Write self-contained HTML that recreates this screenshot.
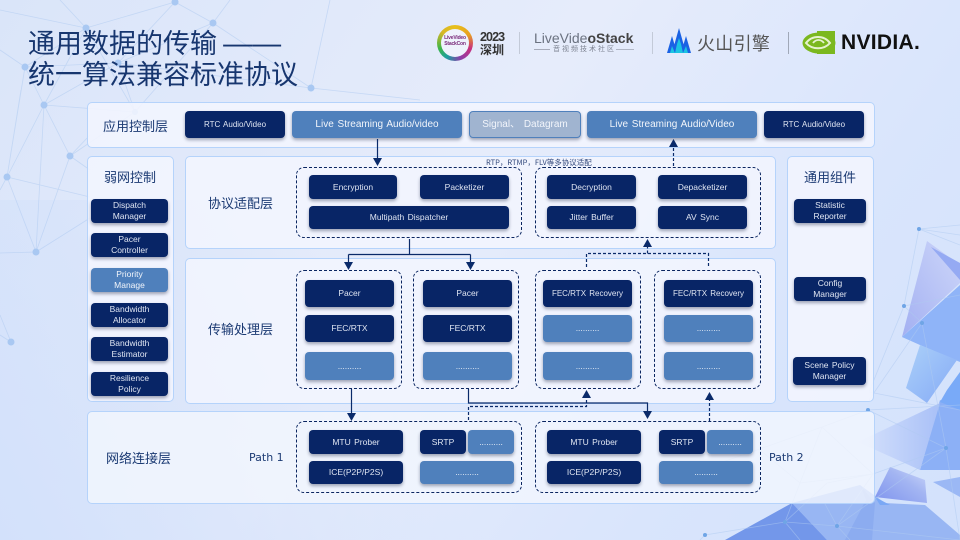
<!DOCTYPE html>
<html lang="zh"><head><meta charset="utf-8"><style>
html,body{margin:0;padding:0}
#s{position:relative;width:960px;height:540px;overflow:hidden;background:linear-gradient(125deg,#dae5f9 0%,#e6ecfb 45%,#d9e5fc 75%,#d3e2fc 100%);font-family:"Liberation Sans","Noto Sans CJK SC",sans-serif}
#s:before{content:"";position:absolute;left:0;top:200px;width:500px;height:340px;background:linear-gradient(60deg,#d3e1fb 0%,rgba(211,225,251,0) 70%)}
svg{position:absolute;left:0;top:0}
.p{position:absolute;box-sizing:border-box;background:rgba(242,245,254,.88);border:1px solid #b5d3fb;border-radius:5px}
.o{position:absolute;box-sizing:border-box;border:1px dashed #0a2560;border-radius:8px}
.b{position:absolute;box-sizing:border-box;display:flex;align-items:center;justify-content:center;text-align:center;color:#dfe5f2;border-radius:4px;font-size:8.5px;line-height:11px;box-shadow:0 2px 3px rgba(40,50,80,.42);word-spacing:1px}
.d{background:#082566}.l{background:#4f80bc;color:#f2f5fb}
.t{position:absolute;color:#1b3a73;white-space:nowrap;font-family:"Noto Sans CJK SC",sans-serif}
.h{font-size:13px;line-height:18px}
.lg{position:absolute;white-space:nowrap}
</style></head><body><div id="s">
<svg width="960" height="540" viewBox="0 0 960 540">
<defs>
<linearGradient id="g1" x1="0" y1="1" x2="1" y2="0"><stop offset="0" stop-color="#a3b0f2"/><stop offset="1" stop-color="#cdd6f9"/></linearGradient>
<linearGradient id="g2" x1="0" y1="0" x2="1" y2="1"><stop offset="0" stop-color="#abd0f9"/><stop offset="1" stop-color="#85aaf6"/></linearGradient>
<linearGradient id="g3" x1="0" y1="0" x2="1" y2="0"><stop offset="0" stop-color="#d6e2fc"/><stop offset="1" stop-color="#a9c0f7"/></linearGradient>
<linearGradient id="g4" x1="0" y1="1" x2="1" y2="0"><stop offset="0" stop-color="#7e93ee"/><stop offset=".6" stop-color="#a3b5f2"/><stop offset="1" stop-color="#ced9fa"/></linearGradient>
</defs>
<g>
<polygon points="927,241 960,265 960,283 902,337" fill="url(#g1)"/>
<polygon points="931,247 960,263 960,280" fill="#95aaf3"/>
<polygon points="902,337 960,285 960,362 920,345" fill="#8fb4f8"/>
<polygon points="920,345 957,360 927,403 906,388" fill="url(#g2)"/>
<polygon points="940,400 960,408 960,470 920,470" fill="#8cb0f6"/>
<polygon points="947,390 960,372 960,410 940,402" fill="#79aaf8"/>
<polygon points="858,442 940,403 920,470" fill="url(#g3)"/>
<polygon points="890,467 925,480 927,503 875,497" fill="url(#g4)"/>
<polygon points="933,482 960,477 960,497" fill="#9bb8f5"/>
<polygon points="792,503 860,485 885,503 925,505 960,535 960,540 827,540" fill="#98b6f3"/>
<polygon points="860,485 875,503 872,540 845,540 866,500" fill="#8cacf0"/>
<polygon points="792,503 725,540 827,540" fill="#7397ea"/>
<polygon points="875,497 890,505 880,505" fill="#7aa8f5"/>
</g>
<g stroke="#aecbf0" stroke-width=".8" fill="none" opacity=".55">
<path d="M44 105L36 252M44 105L7 177M44 105L70 156M70 156L36 252M7 177L36 252M7 177L90 197M36 252L0 253M36 252L90 218M70 156L90 135M70 156L90 170M11 342L0 315M11 342L0 335M7 177L21 90M0 190L7 177M86 28L44 105M86 28L135 112M86 28L175 2M86 28L25 67M25 67L44 105M25 67L7 177M0 10L86 28M213 23L175 2M213 23L311 88M213 23L135 112M118 63L213 23M118 63L135 112M118 63L311 88M25 67L118 63M135 112L70 156M135 112L44 105M311 88L330 0M311 88L420 100M175 2L118 63M230 0L213 23M60 0L86 28M0 50L25 67M44 105L118 63"/>
<path d="M919 229L960 225M919 229L960 235M919 229L960 245M919 229L904 306M904 306L869 392M904 306L960 295M904 306L922 323M922 323L946 448M922 323L869 400M869 392L960 410M868 410L946 448M946 448L873 474M946 448L960 540M946 448L837 526M868 410L822 427L873 474M868 410L960 405M822 427L800 483M873 474L800 483M873 474L827 483M873 474L837 526M800 483L785 522M827 483L785 522M785 522L837 526M785 522L705 535M837 526L960 540M822 427L700 470M705 535L700 540M800 483L760 450M837 526L825 504M785 522L800 540M837 526L850 540"/>
</g>
<g fill="#a9c8f2"><circle cx="175" cy="2" r="3.5"/><circle cx="86" cy="28" r="3.5"/><circle cx="213" cy="23" r="3.5"/><circle cx="25" cy="67" r="3.5"/><circle cx="118" cy="63" r="3.5"/><circle cx="44" cy="105" r="3.5"/><circle cx="135" cy="112" r="3"/><circle cx="311" cy="88" r="3.5"/><circle cx="70" cy="156" r="3.5"/><circle cx="7" cy="177" r="3.5"/><circle cx="36" cy="252" r="3.5"/><circle cx="11" cy="342" r="3.5"/></g>
<g fill="#6fa5e6"><circle cx="919" cy="229" r="2"/><circle cx="904" cy="306" r="2"/><circle cx="922" cy="323" r="2"/><circle cx="868" cy="410" r="2"/><circle cx="946" cy="448" r="2"/><circle cx="785" cy="522" r="2"/><circle cx="837" cy="526" r="2"/><circle cx="705" cy="535" r="2"/></g>
</svg>

<div class="t" style="left:28px;top:26px;font-size:27px;line-height:31px;font-weight:400;color:#17366f">通用数据的传输 <span style="font:29px/0 'Liberation Sans',sans-serif">——</span><br>统一算法兼容标准协议</div>

<div class="lg" style="left:437px;top:25px;width:36px;height:36px;border-radius:50%;background:conic-gradient(#e8c01c 0deg,#e8a020 60deg,#c8307f 110deg,#8b3ea8 160deg,#1a9fa0 210deg,#3db54a 250deg,#d7b726 310deg,#e8c01c 360deg)"></div>
<div class="lg" style="left:441px;top:29px;width:28px;height:28px;border-radius:50%;background:#eef2fc;text-align:center;font:bold 5px/6px 'Liberation Sans',sans-serif;color:#7a2a7a;padding-top:6px;box-sizing:border-box;letter-spacing:-.2px">LiveVideo<br>StackCon</div>
<svg width="960" height="80" viewBox="0 0 960 80">
<g stroke="#c3cad8" stroke-width="1"><path d="M519.5 32V54"/><path d="M652.5 32V54"/></g>
<path d="M788.5 32V54" stroke="#a0a8b8" stroke-width="1"/>
<g stroke="#7c8290" stroke-width=".6"><path d="M534 49.5H550"/><path d="M616 49.5H634"/></g>
<polygon points="667,53 672,36 677,53" fill="#1a62e4"/>
<polygon points="672,53 679,28 686,53" fill="#1a62e4"/>
<polygon points="681,53 686,36 691,53" fill="#1a62e4"/>
<polygon points="670,53 672,46 675,53 677,44 679,38 681,44 683,53 686,46 688,53" fill="#1cc4e2"/>
<ellipse cx="819" cy="43" rx="16.5" ry="10.5" fill="#7bb81f"/>
<rect x="817" y="31" width="18" height="23" fill="#7bb81f"/>
<path d="M806 43C812 35 824 35 830 43C824 50 812 50 806 43Z" fill="none" stroke="#e6f2cf" stroke-width="2"/>
<path d="M813 43C816 39 821 39 824 43" fill="none" stroke="#e6f2cf" stroke-width="1.8"/>
</svg>
<div class="lg" style="left:480px;top:31px;font:bold 12.5px/12.5px 'Liberation Sans','Noto Sans CJK SC',sans-serif;color:#333;letter-spacing:-.9px">2023<br><span style="letter-spacing:0;font-size:12px">深圳</span></div>
<div class="lg" style="left:534px;top:30px;font:14px/16px 'Liberation Sans',sans-serif;color:#6b7280">LiveVide<span style="color:#444;font-weight:bold">oStack</span></div>
<div class="lg" style="left:553px;top:45px;font:7px/9px 'Noto Sans CJK SC',sans-serif;color:#7c8290;letter-spacing:2px">音视频技术社区</div>
<div class="lg" style="left:697px;top:30px;font:18px/26px 'Noto Sans CJK SC',sans-serif;color:#555;letter-spacing:.3px">火山引擎</div>
<div class="lg" style="left:841px;top:31px;font:bold 21px/23px 'Liberation Sans',sans-serif;color:#111;letter-spacing:.3px">NVIDIA.</div>

<div class="p" style="left:87px;top:102px;width:788px;height:46px"></div>
<div class="p" style="left:87px;top:156px;width:87px;height:246px"></div>
<div class="p" style="left:185px;top:156px;width:591px;height:93px"></div>
<div class="p" style="left:185px;top:258px;width:591px;height:146px"></div>
<div class="p" style="left:87px;top:411px;width:788px;height:93px;background:rgba(243,246,254,.8)"></div>
<div class="p" style="left:787px;top:156px;width:87px;height:246px"></div>

<div class="t h" style="left:103px;top:117px">应用控制层</div>
<div class="t h" style="left:104px;top:168px">弱网控制</div>
<div class="t h" style="left:208px;top:194px">协议适配层</div>
<div class="t h" style="left:208px;top:320px">传输处理层</div>
<div class="t h" style="left:106px;top:449px">网络连接层</div>
<div class="t h" style="left:804px;top:168px">通用组件</div>
<div class="t" style="left:249px;top:450px;font:11px/16px 'DejaVu Sans',sans-serif">Path 1</div>
<div class="t" style="left:769px;top:450px;font:11px/16px 'DejaVu Sans',sans-serif">Path 2</div>
<div class="t" style="left:486px;top:157px;font-size:7.5px;line-height:12px;color:#33497c">RTP，RTMP，FLV等多协议适配</div>

<div class="b d" style="left:185px;top:111px;width:100px;height:27px;font-size:8px">RTC Audio/Video</div>
<div class="b l" style="left:292px;top:111px;width:170px;height:27px;font-size:10px">Live Streaming Audio/video</div>
<div class="b" style="left:469px;top:111px;width:112px;height:27px;font-size:10px;background:#a0b4d0;border:1px solid #4f80bc;color:#f2f5fb">Signal、 Datagram</div>
<div class="b l" style="left:587px;top:111px;width:170px;height:27px;font-size:10px">Live Streaming Audio/Video</div>
<div class="b d" style="left:764px;top:111px;width:100px;height:27px;font-size:8px">RTC Audio/Video</div>

<div class="o" style="left:296px;top:167px;width:226px;height:71px"></div>
<div class="o" style="left:535px;top:167px;width:226px;height:71px"></div>
<div class="b d" style="left:309px;top:175px;width:88px;height:24px">Encryption</div>
<div class="b d" style="left:420px;top:175px;width:89px;height:24px">Packetizer</div>
<div class="b d" style="left:309px;top:206px;width:200px;height:23px">Multipath Dispatcher</div>
<div class="b d" style="left:547px;top:175px;width:89px;height:24px">Decryption</div>
<div class="b d" style="left:658px;top:175px;width:89px;height:24px">Depacketizer</div>
<div class="b d" style="left:547px;top:206px;width:89px;height:23px">Jitter Buffer</div>
<div class="b d" style="left:658px;top:206px;width:89px;height:23px">AV Sync</div>

<div class="o" style="left:296px;top:270px;width:106px;height:119px"></div>
<div class="o" style="left:413px;top:270px;width:106px;height:119px"></div>
<div class="o" style="left:535px;top:270px;width:106px;height:119px"></div>
<div class="o" style="left:654px;top:270px;width:107px;height:119px"></div>
<div class="b d" style="left:305px;top:280px;width:89px;height:27px">Pacer</div>
<div class="b d" style="left:305px;top:315px;width:89px;height:27px">FEC/RTX</div>
<div class="b l" style="left:305px;top:352px;width:89px;height:28px">..........</div>
<div class="b d" style="left:423px;top:280px;width:89px;height:27px">Pacer</div>
<div class="b d" style="left:423px;top:315px;width:89px;height:27px">FEC/RTX</div>
<div class="b l" style="left:423px;top:352px;width:89px;height:28px">..........</div>
<div class="b d" style="left:543px;top:280px;width:89px;height:27px;font-size:8px">FEC/RTX Recovery</div>
<div class="b l" style="left:543px;top:315px;width:89px;height:27px">..........</div>
<div class="b l" style="left:543px;top:352px;width:89px;height:28px">..........</div>
<div class="b d" style="left:664px;top:280px;width:89px;height:27px;font-size:8px">FEC/RTX Recovery</div>
<div class="b l" style="left:664px;top:315px;width:89px;height:27px">..........</div>
<div class="b l" style="left:664px;top:352px;width:89px;height:28px">..........</div>

<div class="o" style="left:296px;top:421px;width:226px;height:72px"></div>
<div class="o" style="left:535px;top:421px;width:226px;height:72px"></div>
<div class="b d" style="left:309px;top:430px;width:94px;height:24px">MTU Prober</div>
<div class="b d" style="left:309px;top:461px;width:94px;height:23px">ICE(P2P/P2S)</div>
<div class="b d" style="left:420px;top:430px;width:46px;height:24px">SRTP</div>
<div class="b l" style="left:468px;top:430px;width:46px;height:24px">..........</div>
<div class="b l" style="left:420px;top:461px;width:94px;height:23px">..........</div>
<div class="b d" style="left:547px;top:430px;width:94px;height:24px">MTU Prober</div>
<div class="b d" style="left:547px;top:461px;width:94px;height:23px">ICE(P2P/P2S)</div>
<div class="b d" style="left:659px;top:430px;width:46px;height:24px">SRTP</div>
<div class="b l" style="left:707px;top:430px;width:46px;height:24px">..........</div>
<div class="b l" style="left:659px;top:461px;width:94px;height:23px">..........</div>

<div class="b d" style="left:91px;top:199px;width:77px;height:24px">Dispatch<br>Manager</div>
<div class="b d" style="left:91px;top:233px;width:77px;height:24px">Pacer<br>Controller</div>
<div class="b l" style="left:91px;top:268px;width:77px;height:24px">Priority<br>Manage</div>
<div class="b d" style="left:91px;top:303px;width:77px;height:24px">Bandwidth<br>Allocator</div>
<div class="b d" style="left:91px;top:337px;width:77px;height:24px">Bandwidth<br>Estimator</div>
<div class="b d" style="left:91px;top:372px;width:77px;height:24px">Resilience<br>Policy</div>
<div class="b d" style="left:794px;top:199px;width:72px;height:24px">Statistic<br>Reporter</div>
<div class="b d" style="left:794px;top:277px;width:72px;height:24px">Config<br>Manager</div>
<div class="b d" style="left:793px;top:357px;width:73px;height:28px">Scene Policy<br>Manager</div>

<svg width="960" height="540" viewBox="0 0 960 540" style="pointer-events:none">
<g fill="none" stroke="#0a2a6a" stroke-width="1.2">
<path d="M377.5 139V160"/>
<path d="M409.5 239V254.5M348.5 254.5H470.5M348.5 254.5V263M470.5 254.5V263"/>
<path d="M351.5 389V414"/>
<path d="M468.5 389V403H647.5V413"/>
<g stroke-dasharray="3 2">
<path d="M673.5 166V145"/>
<path d="M586.5 267V253.5H708.5V267M647.5 253.5V245"/>
<path d="M468.5 420V406.5H586.5V397"/>
<path d="M709.5 421V398"/>
</g></g>
<g fill="#0a2a6a">
<polygon points="373,158 382,158 377.5,166"/>
<polygon points="669,147 678,147 673.5,139"/>
<polygon points="344,262 353,262 348.5,270"/>
<polygon points="466,262 475,262 470.5,270"/>
<polygon points="643,247 652,247 647.5,239"/>
<polygon points="347,413 356,413 351.5,421"/>
<polygon points="643,411 652,411 647.5,419"/>
<polygon points="582,398 591,398 586.5,390"/>
<polygon points="705,400 714,400 709.5,392"/>
</g></svg>
</div></body></html>
